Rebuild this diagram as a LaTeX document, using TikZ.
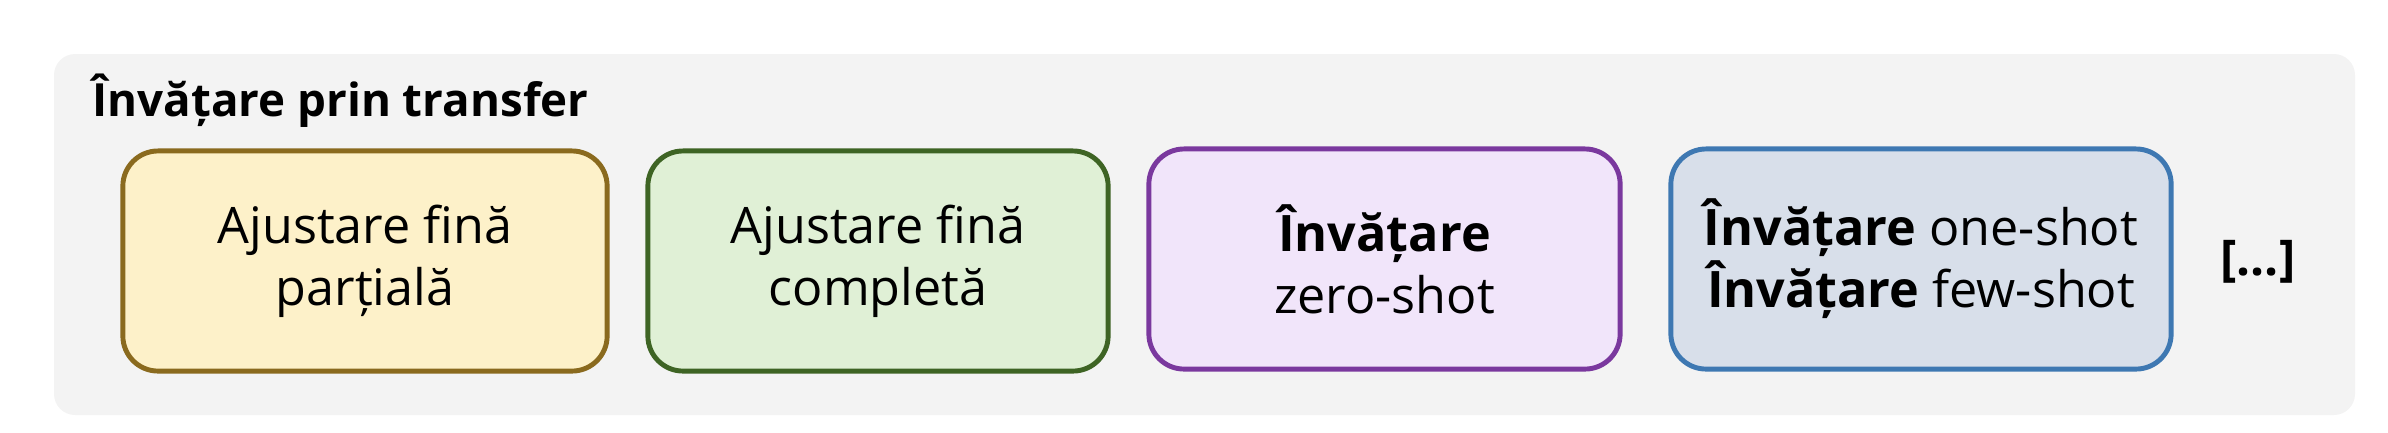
\documentclass[tikz,border=0pt]{standalone}
\usepackage{fontspec}
\setmainfont{Open Sans}

\definecolor{panelgray}{HTML}{F3F3F3}
\definecolor{yfill}{HTML}{FDF1C9}
\definecolor{ybord}{HTML}{8A6A1E}
\definecolor{gfill}{HTML}{E0F0D6}
\definecolor{gbord}{HTML}{3E6424}
\definecolor{pfill}{HTML}{F1E5FA}
\definecolor{pbord}{HTML}{7A389E}
\definecolor{bfill}{HTML}{D8DFEA}
\definecolor{bbord}{HTML}{3E78B2}

\begin{document}
\begin{tikzpicture}[x=0.01cm,y=-0.01cm]
	\tikzstyle{card}=[rounded corners=10pt, line width=1.4pt, minimum height=2.2cm, inner sep=0pt, align=center, font=\fontsize{14.3}{17.6}\selectfont]

	\useasboundingbox (0,0) rectangle (2388,432);
	\fill[panelgray, rounded corners=6pt] (54,54) rectangle (2355,415);

	\node[anchor=base west, font=\bfseries\fontsize{13}{15}\selectfont] (title) at (80,116) {Învățare prin transfer};

	\node[card, draw=ybord, fill=yfill, minimum width=4.84cm] (partial) at (365,261) {Ajustare fină\\parțială};
	\node[card, draw=gbord, fill=gfill, minimum width=4.60cm] (full) at (878,261) {Ajustare fină\\completă};
	\node[card, draw=pbord, fill=pfill, minimum width=4.71cm] (zero) at (1384.5,259) {\textbf{Învățare}\\zero-shot};
	\node[card, draw=bbord, fill=bfill, minimum width=5.00cm] (few) at (1921,259) {\textbf{Învățare} one-shot\\\textbf{Învățare} few-shot};

	\node[font=\bfseries\fontsize{14}{17}\selectfont] (more) at (2258,262) {[…]};
\end{tikzpicture}
\end{document}
